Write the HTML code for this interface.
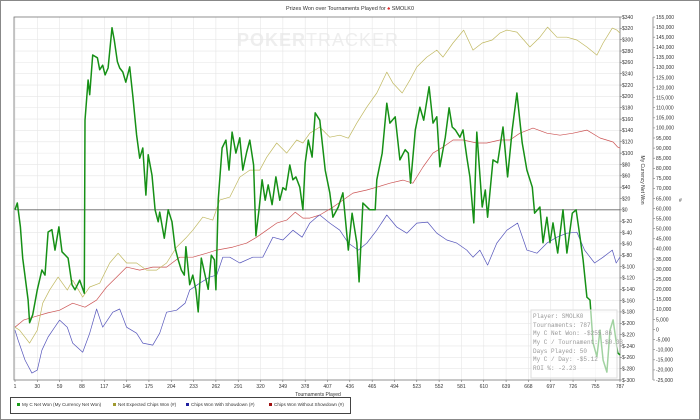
<!DOCTYPE html>
<html><head><meta charset="utf-8"><style>
body{margin:0;background:#fff;}
svg{display:block;font-family:"Liberation Sans",sans-serif;}
</style></head><body>
<svg id="c" width="700" height="420">
<rect x="0.5" y="0.5" width="699" height="419" fill="#fff" stroke="#888"/>
<text x="350" y="10" font-size="5.5" text-anchor="middle" fill="#333">Prizes Won over Tournaments Played for <tspan fill="#d22">♠</tspan> SMOLK0</text>
<text x="318" y="46" font-size="18" font-weight="bold" text-anchor="middle" fill="#eee" letter-spacing="1">POKER<tspan font-weight="normal">TRACKER</tspan></text>
<g id="grid"></g><g id="axes"></g><g id="series"></g>
<g>
<rect x="531" y="310" width="86" height="68" fill="#fff" fill-opacity="0.6" stroke="#ddd"/>
<g font-size="6" fill="#999" font-family="Liberation Mono,monospace">
<text x="533" y="318">Player: SMOLK0</text>
<text x="533" y="327">Tournaments: 787</text>
<text x="533" y="335">My C Net Won: -$255.86</text>
<text x="533" y="344">My C / Tournament: -$0.33</text>
<text x="533" y="353">Days Played: 50</text>
<text x="533" y="361">My C / Day: -$5.12</text>
<text x="533" y="370">ROI %: -2.23</text>
</g></g>
<text x="318" y="396" font-size="5" text-anchor="middle" fill="#333">Tournaments Played</text>
<text transform="translate(641,180) rotate(90)" font-size="5" text-anchor="middle" fill="#333">My Currency Net Won</text>
<text x="679" y="202" font-size="5" fill="#333">#</text>
<g font-size="4.6" fill="#333">
<rect x="10.5" y="397.5" width="340" height="16" fill="#fff" stroke="#444"/>
<g><rect x="17" y="403" width="3" height="3" fill="#1a9c1a"/><text x="22" y="406">My C Net Won (My Currency Net Won)</text></g>
<g><rect x="113" y="403" width="3" height="3" fill="#a09a30"/><text x="118" y="406">Net Expected Chips Won (#)</text></g>
<g><rect x="186" y="403" width="3" height="3" fill="#2020a0"/><text x="191" y="406">Chips Won With Showdown (#)</text></g>
<g><rect x="269" y="403" width="3" height="3" fill="#a01010"/><text x="274" y="406">Chips Won Without Showdown (#)</text></g>
</g>
</svg>
<script>
const xTicks=[1,30,59,88,117,146,175,204,233,262,291,320,349,378,407,436,465,494,523,552,581,610,639,668,697,726,755,787];
const netWonT=[1,4,8,11,18,20,24,30,36,40,44,49,53,58,62,70,75,79,85,91,92,96,98,102,108,111,115,118,122,127,130,134,137,141,145,150,154,159,163,167,171,174,179,183,187,189,195,200,205,209,213,217,221,223,228,232,236,239,243,247,252,256,260,262,265,270,275,279,283,288,293,297,302,306,311,314,318,322,326,330,335,340,345,349,353,358,362,366,371,375,378,382,387,391,397,404,410,414,421,427,434,439,445,448,453,462,469,471,478,484,488,495,501,508,512,515,521,527,532,539,544,549,553,560,565,569,573,579,583,588,592,597,601,608,612,615,622,628,635,641,647,653,660,666,673,676,683,687,692,696,700,706,713,718,725,730,735,739,744,748,752,757,761,765,770,774,778,784,787];
const netWon=[0,12,-30,-85,-159,-199,-185,-141,-106,-115,-39,-35,-71,-30,-74,-85,-132,-141,-124,-147,158,229,203,273,268,247,255,238,250,321,299,261,250,243,225,252,201,132,91,109,26,97,61,0,-21,-4,-50,0,-21,-67,-88,-106,-115,-65,-132,-115,-141,-180,-85,-110,-140,-80,-88,-141,17,109,123,70,137,100,127,70,102,123,79,-46,0,53,17,44,9,58,17,39,35,79,53,58,40,0,83,123,93,171,158,70,30,-13,5,30,-71,-6,-58,-127,12,0,0,53,100,188,153,164,88,106,100,47,141,181,158,217,153,164,76,128,180,146,141,128,141,93,58,-23,137,5,35,-13,88,83,146,58,141,206,118,70,40,-6,5,-58,-13,-58,-23,-76,0,-76,-6,0,-48,-88,-154,-159,-235,-259,-212,-265,-286,-212,-194,-252,-256];
const expT=[1,7,20,30,37,46,57,69,76,89,98,111,124,135,146,159,172,185,198,211,224,232,245,258,267,280,293,306,319,328,341,354,367,375,384,397,410,423,434,445,458,471,484,492,504,514,523,536,549,557,570,584,596,608,621,631,640,653,670,683,693,705,718,731,744,757,765,777,783,787];
const expChips=[1.2,-0.3,-6.7,-0.3,13.1,19.6,26.0,19.6,24.5,16.1,21.1,23.0,33.0,37.9,33.0,33.0,29.5,29.5,33.0,40.9,45.8,49.3,55.8,54.3,64.2,65.7,75.6,79.1,79.1,85.5,92.5,87.5,94.0,92.5,97.4,100.4,95.4,96.4,94.9,102.4,110.3,117.3,127.7,122.2,117.3,123.7,130.2,135.1,138.6,135.1,142.1,148.5,138.6,142.1,143.6,147.0,148.5,147.5,140.1,145.0,150.0,145.0,145.0,143.6,140.1,136.1,142.1,149.5,148.5,147];
const noSdT=[1,12,25,43,59,76,92,107,120,133,146,163,180,198,215,232,250,263,284,302,315,328,341,354,365,375,384,397,414,427,440,458,471,488,505,518,531,544,557,570,583,601,614,631,644,657,674,692,709,726,744,761,778,784,787];
const noSdChips=[1.2,4.7,6.2,8.2,9.6,13.1,11.1,14.6,21.1,26.0,31.0,29.5,31.0,31.0,35.9,35.9,37.9,39.4,40.9,42.9,45.8,49.3,52.8,54.3,58.2,55.3,55.3,56.8,60.7,64.2,67.7,69.2,70.6,72.6,74.1,72.6,80.6,87.5,90.5,94.0,94.0,92.5,92.5,94.0,94.0,97.4,99.9,97.4,96.4,97.4,98.9,95.0,93.0,90.5,90];
const sdT=[1,5,14,23,30,36,44,50,59,69,76,89,98,107,115,128,137,146,159,167,180,189,198,211,222,228,241,254,263,271,280,293,310,323,336,349,362,374,384,393,397,410,423,434,447,458,471,484,497,510,523,537,549,562,575,588,596,605,615,627,640,654,666,679,692,705,718,731,741,754,765,777,782,787];
const sdChips=[-0.3,-5.2,-15.1,-21.6,-20.1,-10.2,-3.7,-0.3,4.7,1.2,-6.7,-11.2,-1.8,10.2,1.2,8.6,10.2,1.2,-1.8,-6.7,-7.7,-1.8,8.6,9.6,13.1,19.6,23.0,26.0,27.0,35.9,35.9,33.0,35.9,35.9,45.8,44.4,49.3,45.8,52.8,55.8,56.8,52.8,49.3,42.9,39.4,42.9,49.3,56.8,50.8,47.8,52.8,53.3,47.8,44.4,42.9,39.4,35.9,39.4,32.0,42.9,49.3,52.8,39.4,37.9,42.9,45.8,47.8,48.3,39.4,33.0,35.9,39.4,33.0,36];

const L=15,R=620,T=17,B=380;
const xS=t=>L+(t-1)/(787-1)*(R-L);
const yUSD=v=>T+(340-v)/640*(B-T);
const yCh=k=>T+(155-k)/180*(B-T);
const NS='http://www.w3.org/2000/svg';
function mk(p,tag,at){const e=document.createElementNS(NS,tag);for(const k in at)e.setAttribute(k,at[k]);p.appendChild(e);return e;}
const grid=document.getElementById('grid'),axes=document.getElementById('axes'),ser=document.getElementById('series');
for(let v=340;v>=-300;v-=20){const y=yUSD(v);
 const g=mk(grid,'line',{x1:L,x2:R,y1:y,y2:y,stroke:'#e6e6e6','stroke-width':0.6});
 
 
 const t=mk(axes,'text',{x:R+2,y:y+1.8,'font-size':5,fill:'#333'});
 t.textContent=(v<0?'$-'+(-v):'$'+v);
 
 
 mk(axes,'line',{x1:R,x2:R+2,y1:y,y2:y,stroke:'#555','stroke-width':0.5});
}
for(let k=155;k>=-25;k-=5){const y=yCh(k);
 mk(axes,'line',{x1:653,x2:655,y1:y,y2:y,stroke:'#555','stroke-width':0.5});
 const t=mk(axes,'text',{x:656,y:y+1.8,'font-size':5,fill:'#333'});
 t.textContent=(k*1000).toLocaleString('en-US');
 
 
}
xTicks.forEach(v=>{const x=xS(v);
 const g=mk(grid,'line',{x1:x,x2:x,y1:T,y2:B,stroke:'#e6e6e6','stroke-width':0.6});
 
 
 mk(axes,'line',{x1:x,x2:x,y1:B,y2:B+2,stroke:'#555','stroke-width':0.5});
 const t=mk(axes,'text',{x:x,y:B+8,'font-size':5,fill:'#333','text-anchor':'middle'});
 t.textContent=v;
 
 
});
mk(axes,'rect',{x:L-1,y:T,width:R-L+1,height:B-T,fill:'none',stroke:'#777','stroke-width':0.8});
mk(axes,'line',{x1:653,x2:653,y1:T,y2:B,stroke:'#999','stroke-width':1});
const z=mk(axes,'line',{x1:L,x2:R,y1:yUSD(0),y2:yUSD(0),stroke:'#666','stroke-width':0.9});


function line(ts,vs,yf,col,w,name){
 const d=ts.map((t,i)=>(i?'L':'M')+xS(t).toFixed(1)+','+yf(vs[i]).toFixed(1)).join('');
 const p=mk(ser,'path',{d:d,fill:'none',stroke:col,'stroke-width':w,'stroke-linejoin':'round'});
 
 
}
line(noSdT,noSdChips,yCh,'#cc5555',0.7,'series-no-showdown');
line(sdT,sdChips,yCh,'#5555bb',0.7,'series-showdown');
line(expT,expChips,yCh,'#c0b860',0.7,'series-expected-chips');
line(netWonT,netWon,yUSD,'#169016',1.5,'series-net-won');
</script>
</body></html>
